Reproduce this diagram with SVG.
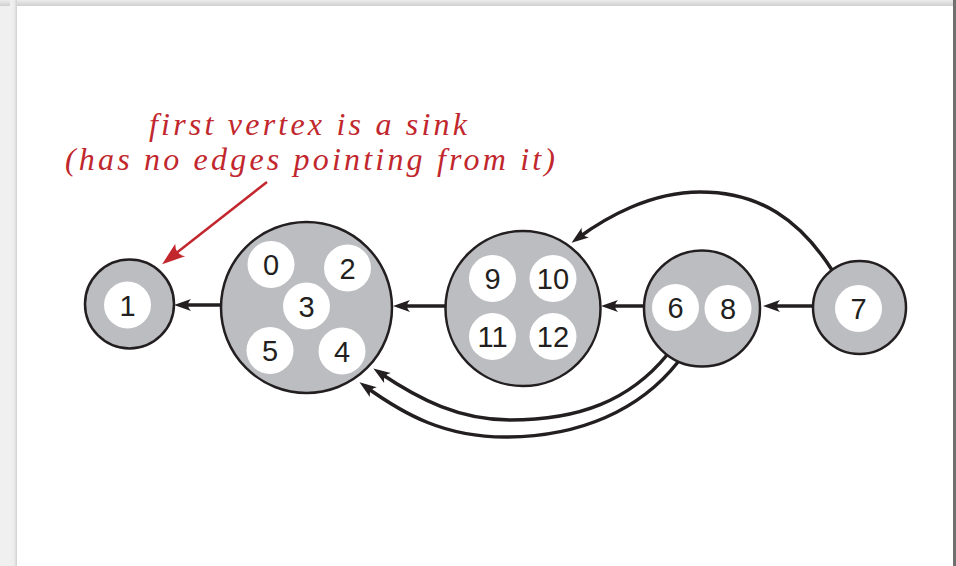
<svg xmlns="http://www.w3.org/2000/svg" width="956" height="566" viewBox="0 0 956 566">
<defs>
<linearGradient id="shL" x1="0" y1="0" x2="1" y2="0">
<stop offset="0" stop-color="#f0f0f0"/><stop offset="0.6" stop-color="#ececec"/><stop offset="1" stop-color="#d0d0d0"/>
</linearGradient>
<linearGradient id="shT" x1="0" y1="0" x2="0" y2="1">
<stop offset="0" stop-color="#ececec"/><stop offset="1" stop-color="#cfcfcf"/>
</linearGradient>
<marker id="ah" markerUnits="userSpaceOnUse" viewBox="-18 -7 20 14" refX="-8" refY="0" markerWidth="20" markerHeight="14" orient="auto">
<path d="M0,0 L-17,-6 Q-11,0 -17,6 Z" fill="#231f20"/>
</marker>
<marker id="ahr" markerUnits="userSpaceOnUse" viewBox="-24 -9 26 18" refX="-10" refY="0" markerWidth="26" markerHeight="18" orient="auto">
<path d="M0,0 L-23,-8 Q-16,0 -23,8 Z" fill="#c1272d"/>
</marker>
<style>
.node{fill:#bcbdc0;stroke:#231f20;stroke-width:2.5}
.inner{fill:#ffffff}
.num{font-family:"Liberation Sans",Arial,sans-serif;font-size:29px;fill:#231f20;text-anchor:middle}
.edge{fill:none;stroke:#231f20;stroke-width:3.5;marker-end:url(#ah)}
.note{font-family:"Liberation Serif","Times New Roman",serif;font-style:italic;font-size:32px;fill:#c1272d}
</style>
</defs>
<rect x="0" y="0" width="956" height="566" fill="#f0f0f0"/>
<rect x="0" y="0" width="956" height="6" fill="url(#shT)"/>
<rect x="10" y="0" width="7" height="566" fill="url(#shL)"/>
<rect x="953" y="0" width="3" height="566" fill="#707070"/>
<rect x="17" y="6" width="936" height="560" fill="#ffffff"/>

<g id="connectors">
<path class="edge" d="M221,305 L182,305"/>
<path class="edge" d="M445,306 L401,306"/>
<path class="edge" d="M644,306 L609,306"/>
<path class="edge" d="M813,306 L771,306"/>
<path class="edge" d="M832,270 C800,220 760,192 700,192 C650,192 605,218 578,238"/>
<path class="edge" d="M667,355 C630,400 580,420 510,420 C460,420 420,400 380,373"/>
<path class="edge" d="M678,362 C640,410 580,437 505,437 C445,437 405,415 366,387"/>
</g>

<g id="annotation">
<text class="note" x="149" y="135" textLength="318" lengthAdjust="spacing">first vertex is a sink</text>
<text class="note" x="65" y="170" textLength="490" lengthAdjust="spacing">(has no edges pointing from it)</text>
<path d="M267,182 L170,258" fill="none" stroke="#c1272d" stroke-width="2.5" marker-end="url(#ahr)"/>
</g>

<g id="node-1">
<circle class="node" cx="129.5" cy="304" r="44.5"/>
<circle class="inner" cx="127.5" cy="305" r="23.5"/>
<text class="num" x="127.5" y="315.5">1</text>
</g>

<g id="node-0-2-3-4-5">
<circle class="node" cx="306.5" cy="307.5" r="85.5"/>
<circle class="inner" cx="271" cy="264.5" r="23.5"/>
<text class="num" x="271" y="275">0</text>
<circle class="inner" cx="347.5" cy="268" r="23.5"/>
<text class="num" x="347.5" y="278.5">2</text>
<circle class="inner" cx="306.5" cy="306" r="23.5"/>
<text class="num" x="306.5" y="316.5">3</text>
<circle class="inner" cx="270" cy="350.5" r="23.5"/>
<text class="num" x="270" y="361">5</text>
<circle class="inner" cx="342" cy="351" r="23.5"/>
<text class="num" x="342" y="361.5">4</text>
</g>

<g id="node-9-10-11-12">
<circle class="node" cx="523" cy="308.5" r="77.5"/>
<circle class="inner" cx="492.5" cy="278.5" r="23.5"/>
<text class="num" x="492.5" y="289">9</text>
<circle class="inner" cx="553" cy="278.5" r="23.5"/>
<text class="num" x="553" y="289">10</text>
<circle class="inner" cx="492.5" cy="336.5" r="23.5"/>
<text class="num" x="492.5" y="347">11</text>
<circle class="inner" cx="553" cy="336.5" r="23.5"/>
<text class="num" x="553" y="347">12</text>
</g>

<g id="node-6-8">
<circle class="node" cx="702" cy="308.5" r="58"/>
<circle class="inner" cx="675.5" cy="307.5" r="23.5"/>
<text class="num" x="675.5" y="318">6</text>
<circle class="inner" cx="728" cy="308.5" r="23.5"/>
<text class="num" x="728" y="319">8</text>
</g>

<g id="node-7">
<circle class="node" cx="859.5" cy="307.5" r="46.5"/>
<circle class="inner" cx="858.5" cy="308.5" r="23.5"/>
<text class="num" x="858.5" y="319">7</text>
</g>
</svg>
